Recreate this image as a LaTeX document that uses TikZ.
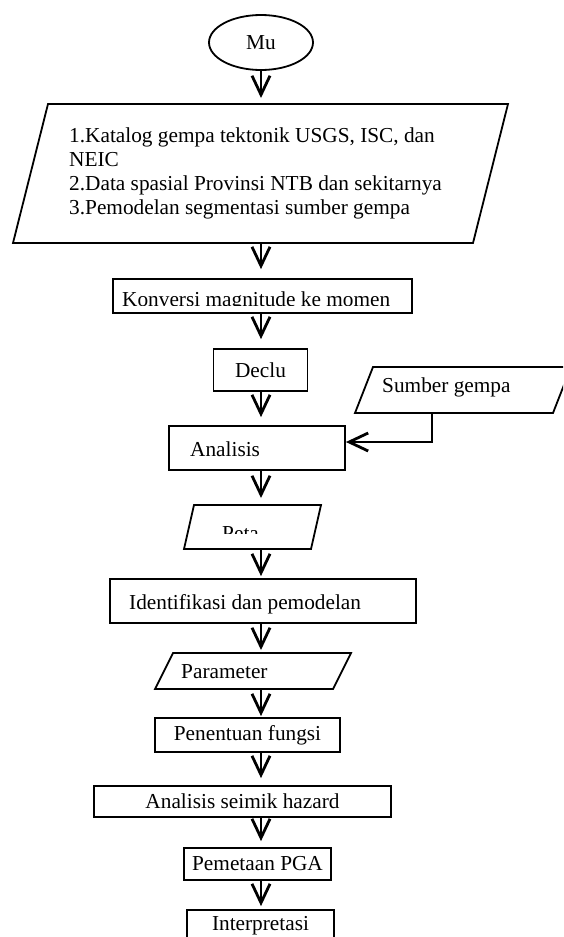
\documentclass[tikz,border=0pt]{standalone}
\usepackage{fontspec}
\setmainfont{Liberation Serif}
\usetikzlibrary{shapes.geometric,arrows.meta}
\newcommand{\flowfont}{\fontsize{21.3pt}{24pt}\selectfont}
\tikzset{
  box/.style={draw, line width=1.8pt, inner sep=0pt, font=\flowfont},
  iobox/.style={inner sep=0pt, outer sep=0pt},
  txt/.style={inner sep=0pt, anchor=base west, font=\flowfont},
  flow/.style={line width=2.5pt, -{Straight Barb[length=19pt,width=18pt,line width=2.8pt]}}
}
\begin{document}
\begin{tikzpicture}[x=1pt,y=-1pt]
\useasboundingbox (0,0) rectangle (563,937);
\clip (0,0) rectangle (563,937);

\node[box,ellipse,minimum width=104pt,minimum height=55pt] (mu) at (261,42.5) {Mu};

\node[iobox,minimum width=460pt,minimum height=139pt] (data) at (260.5,173.5) {};
\foreach \t [count=\i] in {{1.Katalog gempa tektonik USGS, ISC, dan},NEIC,{2.Data spasial Provinsi NTB dan sekitarnya},{3.Pemodelan segmentasi sumber gempa}}
  \node[txt] (data\i) at (69,118+24*\i) {\t};

\node[box,minimum width=299pt,minimum height=34pt] (konv) at (262.5,296) {};
\begin{scope}
\clip (konv.north west) rectangle ([yshift=8pt]konv.south east);
\node[txt] (konvt) at (122,306) {Konversi magnitude ke momen};
\end{scope}

\node[box,minimum width=94pt,minimum height=42pt] (decl) at (260.5,370) {Declu};

\node[box,minimum width=176pt,minimum height=44pt] (ana) at (257,448) {};
\node[txt] (anat) at (190,456) {Analisis};

\node[iobox,minimum width=198pt,minimum height=46pt] (sumber) at (463,390) {};
\node[txt] (sumbert) at (382,392) {Sumber gempa};

\node[iobox,minimum width=127pt,minimum height=44pt] (peta) at (252.5,527) {};
\begin{scope}
\clip (170,500) rectangle (340,533);
\node[txt] (petat) at (222,540) {Peta};
\end{scope}

\node[box,minimum width=306pt,minimum height=44pt] (iden) at (263,601) {};
\node[txt] (ident) at (129,609) {Identifikasi dan pemodelan};

\node[iobox,minimum width=178pt,minimum height=36pt] (param) at (253,671) {};
\node[txt] (paramt) at (181,678) {Parameter};

\node[box,minimum width=185pt,minimum height=34pt] (fungsi) at (247.5,735) {Penentuan fungsi};
\node[box,minimum width=297pt,minimum height=31pt] (hazard) at (242.5,801.5) {Analisis seimik hazard};
\node[box,minimum width=147pt,minimum height=32pt] (pga) at (257.5,864) {Pemetaan PGA};
\node[box,minimum width=147pt,minimum height=32pt] (interp) at (260.5,926) {Interpretasi};

\foreach \n/\s in {data/17.5,sumber/9,peta/5,param/9}
  \draw[line width=1.8pt] ([xshift=-\s pt]\n.south west) -- ([xshift=\s pt]\n.north west)
    -- ([xshift=\s pt]\n.north east) -- ([xshift=-\s pt]\n.south east) -- cycle;

\foreach \a/\b/\g in {mu/data/6,data/konv/9,konv/decl/9,decl/ana/8,ana/peta/7,peta/iden/2,iden/param/3,param/fungsi/1,fungsi/hazard/7,hazard/pga/6,pga/interp/3}
  \draw[flow,shorten >=\g pt] (\a.south -| mu.south) -- (\b.north -| mu.south);
\draw[flow] ([xshift=-31pt]sumber.south) |- ([yshift=6pt]ana.east);
\end{tikzpicture}
\end{document}
